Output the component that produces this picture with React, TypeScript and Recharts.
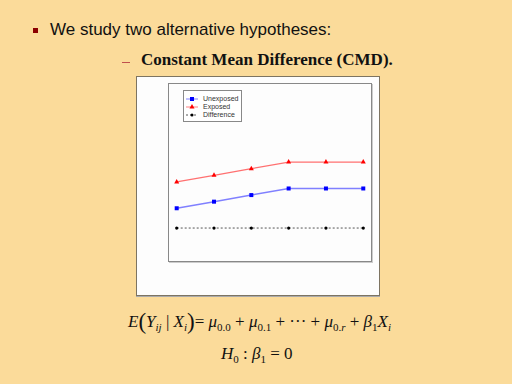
import { LineChart, Line, XAxis, YAxis } from "recharts"

const periods = [0, 1, 2, 3, 4, 5]
const unexposed = [7, 8, 9, 10, 10, 10]
const exposed = [11, 12, 13, 14, 14, 14]
const difference = [4, 4, 4, 4, 4, 4]

const data = periods.map((t, i) => ({
  t,
  unexposed: unexposed[i],
  exposed: exposed[i],
  difference: difference[i],
}))

const bg = "#FBDB9A"

const Square = (props: any) => {
  const { cx, cy } = props
  if (cx == null || cy == null) return null
  return <rect x={cx - 2} y={cy - 2} width={4} height={4} fill="#0000ff" />
}

const Tri = (props: any) => {
  const { cx, cy } = props
  if (cx == null || cy == null) return null
  return <path d={`M${cx},${cy - 3}L${cx + 2.5},${cy + 1.5}L${cx - 2.5},${cy + 1.5}Z`} fill="#ff0000" />
}

const Dot = (props: any) => {
  const { cx, cy } = props
  if (cx == null || cy == null) return null
  return <circle cx={cx} cy={cy} r={1.6} fill="#000" />
}

const legendItems = [
  { label: "Unexposed", color: "#8080ff", mark: "sq" },
  { label: "Exposed", color: "#ff8080", mark: "tri" },
  { label: "Difference", color: "#555", mark: "dot" },
]

function LegendBox() {
  return (
    <div style={{ position: "absolute", left: 46, top: 13, border: "1px solid #888", background: "#fff", width: 59, height: 32, boxSizing: "border-box", paddingTop: 4 }}>
      {legendItems.map((it) => (
        <div key={it.label} style={{ display: "flex", alignItems: "center", height: 8, fontFamily: "Liberation Sans", fontSize: 7, color: "#333" }}>
          <svg width={14} height={8} style={{ marginLeft: 1, flex: "none" }}>
            <line x1={1} y1={4} x2={13} y2={4} stroke={it.color} strokeDasharray={it.mark === "dot" ? "2 2" : undefined} />
            {it.mark === "sq" && <rect x={5} y={2} width={4} height={4} fill="#0000ff" />}
            {it.mark === "tri" && <path d="M7,1L9.5,5.5L4.5,5.5Z" fill="#ff0000" />}
            {it.mark === "dot" && <circle cx={7} cy={4} r={1.5} fill="#000" />}
          </svg>
          <span style={{ marginLeft: 4, lineHeight: "8px", whiteSpace: "nowrap" }}>{it.label}</span>
        </div>
      ))}
    </div>
  )
}

const sub = { fontSize: 11, fontStyle: "normal" as const }
const subI = { fontSize: 11 }
const up = { fontStyle: "normal" as const }

export default function App() {
  return (
    <div style={{ position: "fixed", left: 0, top: 0, width: 512, height: 384, background: bg, overflow: "hidden" }}>
      <div style={{ position: "absolute", left: 33, top: 28, width: 5, height: 5, background: "#8B0000" }} />
      <div style={{ position: "absolute", left: 50, top: 20, fontFamily: "Liberation Sans", fontSize: 17, color: "#111", whiteSpace: "nowrap" }}>
        We study two alternative hypotheses:
      </div>
      <div style={{ position: "absolute", left: 122, top: 62, width: 8, height: 1, background: "#c0504d" }} />
      <div style={{ position: "absolute", left: 141, top: 50, fontFamily: "Liberation Serif", fontWeight: "bold", fontSize: 17, color: "#111", whiteSpace: "nowrap" }}>
        Constant Mean Difference (CMD).
      </div>

      <div style={{ position: "absolute", left: 136, top: 76, width: 244, height: 220, background: "#fdfdfd", border: "1px solid #7d7462", boxShadow: "0 1px 0 #aaa", boxSizing: "border-box" }}>
        <div style={{ position: "absolute", left: 31, top: 6, width: 204, height: 179, border: "1px solid #888", boxShadow: "1px 1px 0 #ccc", boxSizing: "border-box" }} />
        <LineChart width={242} height={218} data={data} margin={{ top: 6, right: 8, bottom: 34, left: 31 }} style={{ position: "absolute", left: 0, top: 0 }}>
          <XAxis type="number" dataKey="t" domain={[-0.233, 5.207]} hide />
          <YAxis type="number" domain={[-1, 26]} hide />
          <Line dataKey="difference" stroke="#555" strokeWidth={1} strokeDasharray="2 2" dot={<Dot />} isAnimationActive={false} />
          <Line dataKey="unexposed" stroke="#8080ff" strokeWidth={1.5} dot={<Square />} isAnimationActive={false} />
          <Line dataKey="exposed" stroke="#ff7070" strokeWidth={1.2} dot={<Tri />} isAnimationActive={false} />
        </LineChart>
        <LegendBox />
      </div>

      <div style={{ position: "absolute", left: 128, top: 309, fontFamily: "Liberation Serif", fontStyle: "italic", fontSize: 17, color: "#111", whiteSpace: "nowrap" }}>
        E<span style={{ ...up, fontSize: 23, verticalAlign: -2 }}>(</span>Y<sub style={subI}>ij</sub> <span style={up}>|</span> X<sub style={subI}>i</sub><span style={{ ...up, fontSize: 23, verticalAlign: -2 }}>)</span><span style={up}>= </span>
        μ<sub style={sub}>0.0</sub> <span style={up}>+</span> μ<sub style={sub}>0.1</sub> <span style={up}>+ ··· +</span> μ<sub style={subI}><span style={up}>0.</span>r</sub> <span style={up}>+</span> β<sub style={sub}>1</sub>X<sub style={subI}>i</sub>
      </div>
      <div style={{ position: "absolute", left: 221, top: 344, fontFamily: "Liberation Serif", fontStyle: "italic", fontSize: 17, color: "#111", whiteSpace: "nowrap" }}>
        H<sub style={sub}>0</sub> <span style={up}>:</span> β<sub style={sub}>1</sub> <span style={up}>= 0</span>
      </div>
    </div>
  )
}
